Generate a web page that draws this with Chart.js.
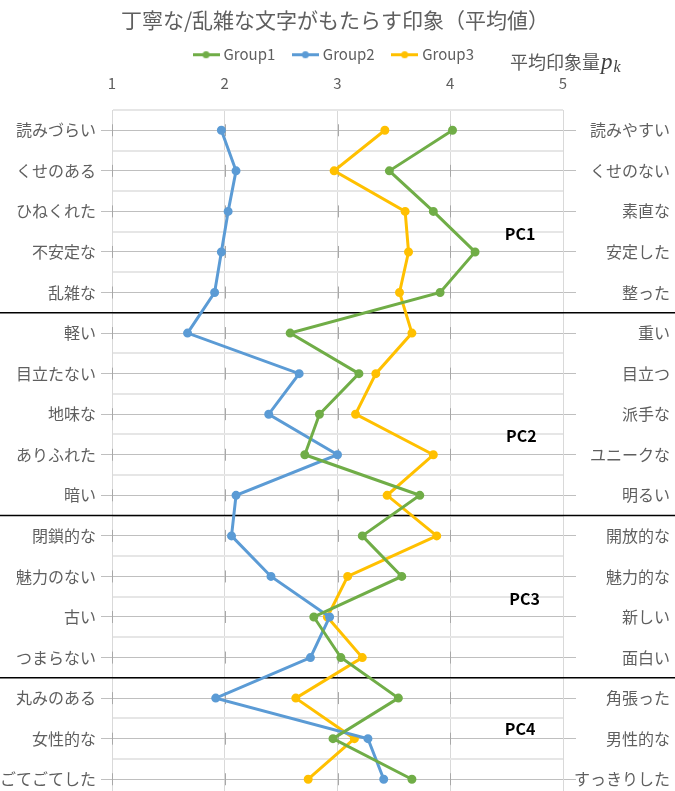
<!DOCTYPE html>
<html><head><meta charset="utf-8">
<script src="https://cdn.jsdelivr.net/npm/chart.js@4.4.0/dist/chart.umd.min.js"></script>
<style>html,body{margin:0;padding:0;background:#fff;overflow:hidden}#wrap{width:675px;height:791px;position:relative}</style>
</head><body><div id="wrap"><canvas id="c"></canvas></div>
<script>
const leftLabels = ['読みづらい','くせのある','ひねくれた','不安定な','乱雑な','軽い','目立たない','地味な','ありふれた','暗い','閉鎖的な','魅力のない','古い','つまらない','丸みのある','女性的な','ごてごてした'];
const rightLabels = ['読みやすい','くせのない','素直な','安定した','整った','重い','目立つ','派手な','ユニークな','明るい','開放的な','魅力的な','新しい','面白い','角張った','男性的な','すっきりした'];
const group1 = [4.02,3.46,3.85,4.22,3.91,2.58,3.19,2.84,2.71,3.73,3.22,3.57,2.79,3.03,3.54,2.96,3.66];
const group2 = [1.97,2.10,2.03,1.97,1.91,1.67,2.66,2.39,3.00,2.10,2.06,2.41,2.93,2.76,1.92,3.27,3.41];
const group3 = [3.42,2.97,3.60,3.63,3.55,3.66,3.34,3.16,3.85,3.44,3.88,3.09,2.91,3.22,2.63,3.15,2.74];
const xTicks = [1,2,3,4,5];
const seriesNames = ['Group1','Group2','Group3'];
const groupBreaks = [5.5,10.5,14.5];
const pcNames = ['PC1','PC2','PC3','PC4'];

const colors = ['#70AD47','#5B9BD5','#FFC000'];
const FONT = "'Noto Sans CJK JP','Noto Sans',sans-serif";
Chart.defaults.font.family = FONT;

function legendImg(color){
  const c = document.createElement('canvas'); c.width = 27; c.height = 9;
  const g = c.getContext('2d');
  g.strokeStyle = color; g.lineWidth = 3;
  g.beginPath(); g.moveTo(0,4.5); g.lineTo(27,4.5); g.stroke();
  g.fillStyle = color; g.beginPath(); g.arc(13.5,4.5,3.5,0,Math.PI*2); g.fill();
  return c;
}
const legendImgs = colors.map(legendImg);

const allSeries = [group1, group2, group3];
const datasets = allSeries.map((vals, i) => ({
  label: seriesNames[i],
  data: vals.map((v, k) => ({x: v, y: k + 1})),
  showLine: true,
  borderColor: colors[i],
  backgroundColor: colors[i],
  pointBackgroundColor: colors[i],
  pointBorderColor: colors[i],
  borderWidth: 3,
  pointRadius: 3,
  tension: 0
}));

const isInt = v => Math.abs(v - Math.round(v)) < 1e-6;
function halfTicks(s){
  const t = [];
  for (let k = 1; k <= leftLabels.length * 2; k++) t.push({value: k / 2});
  s.ticks = t;
}
function noPad(s){ s.paddingTop = 0; s.paddingBottom = 0; }

const decor = {
  id: 'decor',
  beforeDatasetsDraw(chart, args, o) {
    const {ctx, scales: {x, y}} = chart;
    ctx.save();
    ctx.strokeStyle = '#a8a8a8'; ctx.lineWidth = 1;
    xTicks.slice(0, -1).forEach(v => {
      const px = Math.round(x.getPixelForValue(v)) + 0.5;
      leftLabels.forEach((_, i) => {
        const py = y.getPixelForValue(i + 1);
        ctx.beginPath(); ctx.moveTo(px, py - 6); ctx.lineTo(px, py + 6); ctx.stroke();
      });
    });
    ctx.strokeStyle = '#000'; ctx.lineWidth = 1.5;
    groupBreaks.forEach(b => {
      const py = y.getPixelForValue(b);
      ctx.beginPath(); ctx.moveTo(0, py); ctx.lineTo(chart.width, py); ctx.stroke();
    });
    ctx.restore();
  },
  afterDraw(chart, args, o) {
    const {ctx, scales: {x, y}} = chart;
    ctx.save();
    ctx.fillStyle = '#000';
    ctx.font = 'bold 16px ' + FONT;
    ctx.textAlign = 'center'; ctx.textBaseline = 'middle';
    pcNames.forEach((n, i) => {
      ctx.fillText(n, x.getPixelForValue(o.pcPos[i][0]), y.getPixelForValue(o.pcPos[i][1]));
    });
    // axis title
    ctx.textAlign = 'left'; ctx.fillStyle = '#595959';
    ctx.font = '18px ' + FONT;
    const tx = o.titleX, ty = o.titleY;
    ctx.fillText('平均印象量', tx, ty);
    const w = ctx.measureText('平均印象量').width;
    ctx.fillStyle = '#404040';
    ctx.font = 'italic 23px "Liberation Serif", serif';
    ctx.fillText('p', tx + w + 1, ty + 1);
    const wp = ctx.measureText('p').width;
    ctx.font = 'italic 16px "Liberation Serif", serif';
    ctx.fillText('k', tx + w + 2 + wp, ty + 6);
    ctx.restore();
  }
};

new Chart(document.getElementById('c'), {
  type: 'scatter',
  data: {datasets},
  plugins: [decor],
  options: {
    responsive: true, maintainAspectRatio: false, animation: false,
    layout: {autoPadding: false, padding: {right: 5, left: 0, top: 0, bottom: 0}},
    plugins: {
      title: {display: true, text: '丁寧な/乱雑な文字がもたらす印象（平均値）', color: '#5f5f5f',
        font: {size: 21, weight: 'normal'}, padding: {top: 7, bottom: -5}},
      legend: {display: true, position: 'top',
        labels: {font: {size: 15}, color: '#5f5f5f', usePointStyle: true, pointStyleWidth: 20, padding: 20,
          generateLabels: chart => chart.data.datasets.map((ds, i) => ({
            text: ds.label, pointStyle: legendImgs[i], fillStyle: ds.borderColor, strokeStyle: ds.borderColor,
            lineWidth: 0, hidden: false, datasetIndex: i, fontColor: '#5f5f5f'}))}},
      tooltip: {enabled: false},
      decor: {pcPos: [[4.62, 3.56], [4.63, 8.54], [4.66, 12.55], [4.62, 15.76]], titleX: 510, titleY: 62}
    },
    scales: {
      x: {type: 'linear', position: 'top', min: 1, max: 5,
        afterBuildTicks: s => { s.ticks = xTicks.map(v => ({value: v})); },
        ticks: {font: {size: 15}, color: '#5f5f5f', padding: 18},
        grid: {color: '#d9d9d9', drawTicks: false, lineWidth: 1},
        border: {display: false},
        afterFit: s => { const c = s.chart; s.paddingLeft = 0; s.paddingRight = 0;
          s.height = 110 - (c.titleBlock ? c.titleBlock.height : 0) - (c.legend ? c.legend.height : 0); }
      },
      y: {type: 'linear', position: 'left', reverse: true, min: 0.5, max: 17.29,
        afterBuildTicks: halfTicks,
        ticks: {autoSkip: false, font: {size: 16}, color: '#5f5f5f', padding: 5,
          callback: v => isInt(v) ? leftLabels[Math.round(v) - 1] : ''},
        grid: {color: c => isInt(c.tick.value) ? '#bfbfbf' : '#e6e6e6',
          lineWidth: c => isInt(c.tick.value) ? 1 : 2,
          tickColor: c => isInt(c.tick.value) ? '#bfbfbf' : 'rgba(0,0,0,0)', tickLength: 11},
        border: {color: '#d9d9d9'},
        afterFit: s => { s.width = 112; noPad(s); }
      },
      y2: {type: 'linear', position: 'right', reverse: true, min: 0.5, max: 17.29,
        afterBuildTicks: halfTicks,
        ticks: {autoSkip: false, font: {size: 16}, color: '#5f5f5f', padding: 5, crossAlign: 'far',
          callback: v => isInt(v) ? rightLabels[Math.round(v) - 1] : ''},
        grid: {drawOnChartArea: false,
          tickColor: c => isInt(c.tick.value) ? '#bfbfbf' : 'rgba(0,0,0,0)', tickLength: 13},
        border: {color: '#d9d9d9'},
        afterFit: s => { s.width = 107; noPad(s); }
      }
    }
  }
});
</script>
</body></html>
